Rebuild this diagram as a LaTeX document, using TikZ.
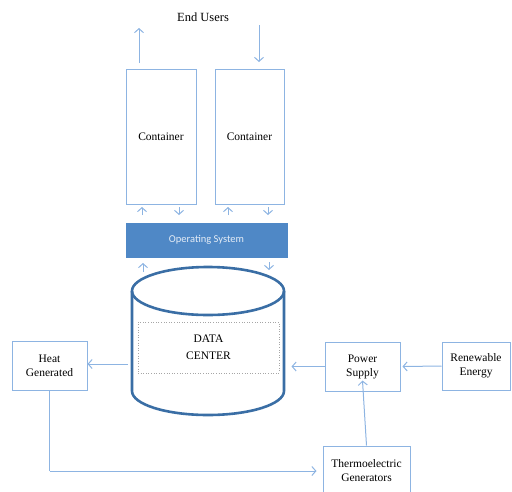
\documentclass[tikz,border=0pt]{standalone}
\usepackage{fontspec}
\setmainfont{Liberation Serif}
\newfontfamily\osfont{Carlito}
\usetikzlibrary{arrows.meta}
\definecolor{lineblue}{HTML}{8DB4E2}
\definecolor{osblue}{HTML}{4F88C6}
\definecolor{cylblue}{HTML}{3A6EA5}
\definecolor{ostext}{HTML}{E4ECF6}
\tikzset{
  box/.style={draw=lineblue, line width=1pt, rectangle, inner sep=0pt, align=center, font=\fontsize{11.5}{14}\selectfont},
  arr/.style={draw=lineblue, line width=1pt, -{Straight Barb[length=4pt,width=9pt]}},
  lnk/.style={draw=lineblue, line width=1pt},
}
\begin{document}
\begin{tikzpicture}[x=1pt,y=-1pt]
\useasboundingbox (0,0) rectangle (512,491);
% top label
\node (eu) at (203,17) {\fontsize{12.5}{14}\selectfont End Users};
% containers
\node[box, minimum width=70pt, minimum height=135pt] (c1) at (161,136.5) {Container};
\node[box, minimum width=69pt, minimum height=135pt] (c2) at (249.5,136.5) {Container};
% operating system
\node[rectangle, fill=osblue, draw=osblue, minimum width=161pt, minimum height=34pt, inner sep=0pt,
      text=ostext, font=\osfont\fontsize{10.5}{12}\selectfont] (os) at (206.5,240) {Operating System};
% cylinder
\node[minimum width=152pt, minimum height=148pt, inner sep=0pt] (cyl) at (208,341) {};
\draw[cylblue, line width=2.6pt] (132,291) -- (132,391) arc[start angle=180, end angle=360, x radius=76pt, y radius=24pt] -- (284,291);
\draw[cylblue, line width=2.6pt] (208,291) ellipse [x radius=76pt, y radius=24pt];
\node[draw=gray!70, dotted, line width=0.6pt, minimum width=141pt, minimum height=51pt, inner sep=0pt,
      align=center, font=\fontsize{11.5}{17}\selectfont] (dc) at (208.5,347.5) {DATA\\CENTER};
% side boxes
\node[box, minimum width=75pt, minimum height=49pt] (heat) at (49.5,365.5) {Heat\\Generated};
\node[box, minimum width=75pt, minimum height=49pt] (ps) at (362.5,366.5) {Power\\Supply};
\node[box, minimum width=68pt, minimum height=48pt] (re) at (476,366) {Renewable\\Energy};
\node[box, minimum width=87pt, minimum height=50pt] (te) at (366.5,471) {Thermoelectric\\Generators};
% free ends
\coordinate (upA) at (139,63);
\coordinate (upB) at (139,28);
\coordinate (dnA) at (259,25);
\coordinate (dnB) at (259,62);
\coordinate (hA) at (128,364);
\coordinate (bend) at (heat.south |- te.west);
% end user arrows
\draw[arr] (upA) -- (upB);
\draw[arr] (dnA) -- (dnB);
% container <-> OS arrows
\draw[arr] (142,215) -- (142,207);
\draw[arr] (179,207) -- (179,215);
\draw[arr] (228,215) -- (228,207);
\draw[arr] (268,207) -- (268,215);
% OS <-> cylinder
\draw[arr] (143,272) -- (143,263);
\draw[arr] (269,262) -- (269,270);
% horizontal flows
\draw[arr] (hA) -- (heat.east |- hA);
\draw[arr] (ps.west) -- ([xshift=-33pt]ps.west);
\draw[arr] (re.west) -- ([xshift=2pt]ps.east);
\draw[arr] (te.north) -- ([yshift=11pt]ps.south);
\draw[lnk] (heat.south) -- (bend);
\draw[arr] (bend) -- ([xshift=-6pt]te.west);
\end{tikzpicture}
\end{document}
